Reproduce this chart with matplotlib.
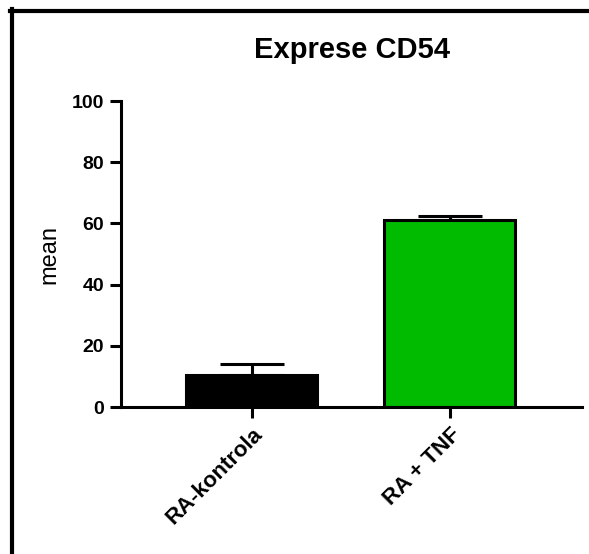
import matplotlib
matplotlib.use("Agg")
import matplotlib.pyplot as plt
from matplotlib.lines import Line2D

plt.rcParams['font.family'] = ['Liberation Sans', 'DejaVu Sans']

categories = ["RA-kontrola", "RA + TNF"]
means = [10.5, 61.0]
errors = [3.5, 1.3]
colors = ["#000000", "#00BB00"]
yticks = [0, 20, 40, 60, 80, 100]

fig = plt.figure(figsize=(5.89, 5.54), dpi=100)
ax = fig.add_axes([121 / 589, 1 - 407 / 554, (582 - 121) / 589, (407 - 101) / 554])

x = list(range(len(categories)))
ax.bar(x, means, width=0.66, color=colors, edgecolor="black", linewidth=2.2, zorder=2)
# upper error whiskers only
ax.errorbar(x, means, yerr=[[0] * len(errors), errors],
            fmt="none", ecolor="black", elinewidth=2.2, capsize=23, capthick=2.2, zorder=1)

ax.set_xlim(-0.66, 1.667)
ax.set_ylim(0, 100)
ax.set_yticks(yticks)
ax.set_yticklabels([str(v) for v in yticks], fontsize=14, fontweight="bold")
ax.set_xticks(x)
ax.set_xticklabels(categories, rotation=45, ha="right", rotation_mode="anchor",
                   fontsize=16, fontweight="bold")

for side in ("top", "right"):
    ax.spines[side].set_visible(False)
for side in ("left", "bottom"):
    ax.spines[side].set_linewidth(2.2)
ax.tick_params(axis="both", width=2.2, length=8, pad=4)

ax.set_ylabel("mean", fontsize=17, labelpad=8)
ax.set_title("Exprese CD54", fontsize=21, fontweight="bold", pad=31)

# frame lines along the top and left of the figure
fig.add_artist(Line2D([10 / 589, 1], [1 - 10.5 / 554] * 2, color="black", linewidth=3, transform=fig.transFigure))
fig.add_artist(Line2D([11.5 / 589] * 2, [0, 1 - 9 / 554], color="black", linewidth=3, transform=fig.transFigure))

fig.savefig("out.png", dpi=100)
